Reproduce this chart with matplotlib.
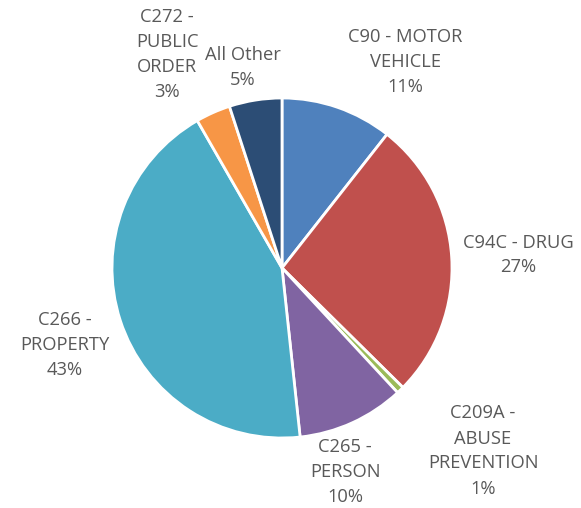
import matplotlib.pyplot as plt

# Dados do gráfico
categorias = ['C90 - MOTOR\nVEHICLE', 'C94C - DRUG', 'C209A -\nABUSE\nPREVENTION',
              'C265 -\nPERSON', 'C266 -\nPROPERTY', 'C272 -\nPUBLIC\nORDER', 'All Other']
valores = [10.6, 26.8, 0.7, 10.2, 43.4, 3.3, 5.0]
rotulos_pct = ['11%', '27%', '1%', '10%', '43%', '3%', '5%']
cores = ['#4F81BD', '#C0504D', '#9BBB59', '#8064A2', '#4BACC6', '#F79646', '#2C4D75']

# posição dos rótulos (pixels da figura)
pos_rotulos = [(405, 62), (518, 255), (483, 451), (345, 472),
               (65, 345), (167, 54), (243, 67)]

fig = plt.figure(figsize=(5.81, 5.08), dpi=100)
cx, cy, r = 282, 268, 170
ax = fig.add_axes([(cx - r) / 581, (508 - cy - r) / 508, 2 * r / 581, 2 * r / 508])

ax.pie(valores, colors=cores, startangle=90, counterclock=False,
       wedgeprops=dict(edgecolor='white', linewidth=2))
ax.set_xlim(-1, 1)
ax.set_ylim(-1, 1)

for cat, pct, (px, py) in zip(categorias, rotulos_pct, pos_rotulos):
    ax.text((px - cx) / r, (cy - py) / r, cat + '\n' + pct, ha='center', va='center',
            fontsize=13.2, color='#595959', family='Open Sans', linespacing=1.5)

fig.savefig('out.png', dpi=100)
